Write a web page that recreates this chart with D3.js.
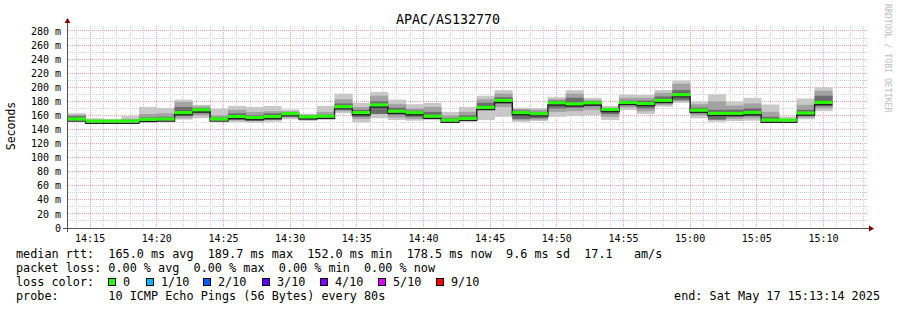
<!DOCTYPE html>
<html>
<head>
<meta charset="utf-8">
<script src="https://cdn.jsdelivr.net/npm/d3@7"></script>
<style>
  body { margin: 0; background: #fff; }
  text { font-family: "DejaVu Sans Mono", monospace; }
</style>
</head>
<body>
<div id="chart-area"></div>
<script>
// smokeping style graph, 10 pings every 80s, values in ms
var tStart = new Date(2025, 4, 17, 14, 13, 16)
var tEnd = new Date(2025, 4, 17, 15, 13, 16)
var firstStep = new Date(2025, 4, 17, 14, 13, 20)
var stepSec = 80

var median   = [155, 152, 152, 152, 154.5, 155, 164, 168, 155, 158.5, 157, 158.5, 162.5, 158, 159, 172.5, 164, 175, 166, 164, 159, 153.5, 156, 171.5, 181.5, 164, 162.5, 178, 176.5, 178, 168.5, 178.5, 177, 181.5, 189.5, 167.5, 163, 163, 164, 153.5, 153.5, 163.5, 178.5]
var smokeMin = [152, 150, 150.5, 151, 151.5, 150.5, 154, 156, 152, 150.5, 149.5, 151, 154.5, 152, 153.5, 163, 150.5, 156, 153.5, 152.5, 153.5, 151, 153.5, 153.5, 158, 151, 152, 158, 159, 160.5, 153.5, 167.5, 162, 172.5, 178, 156, 151, 152, 152.5, 150.5, 152, 154.5, 166]
var smokeMax = [163, 156, 155, 159, 172, 170.5, 182.5, 175, 169.5, 173.5, 172, 173.5, 168.5, 162.5, 173.5, 191, 178, 193.5, 182.5, 176, 178, 165, 172, 188, 196, 171, 170.5, 186, 196, 185, 173.5, 189.5, 189, 196, 209.5, 179.5, 190, 179.5, 185, 175.5, 158.5, 184, 200]
var midLo    = [153, 151, 151, 151.5, 152.5, 152, 156, 160, 153, 153, 152, 154, 157, 154, 155, 166, 155, 162, 157, 155, 155, 152, 154.5, 168, 172, 153, 154, 165, 166, 168, 158, 171, 166, 175, 180, 160, 154, 155, 156, 151.5, 152.5, 157, 170]
var midHi    = [161, 154, 153.5, 155, 162, 163, 179, 173, 160, 168, 165, 166, 166, 161, 165, 183, 172, 188, 176, 170, 172, 160, 165, 183, 191, 169, 168, 183, 191, 182, 171, 185, 185, 192, 205, 176, 180, 174, 177, 165, 155, 175, 195]
var coreLo   = [154, 151.5, 151.5, 152, 153.5, 153.5, 160, 163, 154, 155, 154, 156, 160, 156, 157, 169, 158, 162, 161, 158, 156.5, 152.5, 155, 170, 177, 155, 156, 170, 171, 173, 162, 175, 170, 178, 182, 163, 154, 158, 159, 152, 153, 159, 173]
var coreHi   = [159, 153, 153, 153.5, 157, 158, 172, 170, 157, 163, 160, 163, 164.5, 159.5, 161, 177, 168, 180, 171, 167, 165, 156, 160, 178, 186, 167, 165, 181, 185, 180, 170, 181, 181, 187, 196, 171, 168, 168, 170, 158, 154, 168, 188]

var smokeColors = ["#c8c8c8", "#a2a2a2", "#6c6c6c"]

var lossLabels = ["0", "1/10", "2/10", "3/10", "4/10", "5/10", "9/10"]
var lossColors = ["#26ff00", "#00b8ff", "#0059ff", "#5e00ff", "#7e00ff", "#dd00ff", "#ff0000"]
var lossBoxX = [108, 146, 203, 262, 320, 378, 436]
var lossTextX = [123, 161, 218, 277, 335, 393, 451]

var yTicks = d3.range(20, 281, 20)
var yMinor = d3.range(10, 281, 10)

var legendLines = [
  "median rtt:  165.0 ms avg  189.7 ms max  152.0 ms min  178.5 ms now  9.6 ms sd  17.1   am/s",
  "packet loss: 0.00 % avg  0.00 % max  0.00 % min  0.00 % now",
  "loss color:",
  "probe:       10 ICMP Echo Pings (56 Bytes) every 80s"
]

var W = 897, H = 310
var plot = {left: 67, right: 867, top: 26, bottom: 228}

var svg = d3.select("#chart-area").append("svg")
  .attr("width", W)
  .attr("height", H)

svg.append("rect").attr("width", W).attr("height", H).attr("fill", "#fff")

var x = d3.scaleTime()
  .domain([tStart, tEnd])
  .range([plot.left, plot.right])

var y = d3.scaleLinear()
  .domain([0, 287.1])
  .range([plot.bottom, plot.top])

function stepT(i) { return new Date(firstStep.getTime() + i * stepSec * 1000) }
function snap(v) { return Math.floor(v) + 0.5 }

var steps = median.map(function(m, i) {
  return {
    t0: stepT(i), t1: stepT(i + 1), med: m,
    bands: [[smokeMin[i], smokeMax[i]], [midLo[i], midHi[i]], [coreLo[i], coreHi[i]]]
  }
})

// grid (opaque dots)
var minorCol = "#cdcdcd"
var majorCol = "#f4a3a3"
var xTicks = d3.timeMinute.every(5).range(tStart, tEnd)
var minutes = d3.timeMinute.range(tStart, tEnd).filter(function(d) { return d.getMinutes() % 5 != 0 })

var grid = svg.append("g")
grid.selectAll(null).data(minutes).enter().append("line")
  .attr("x1", function(d) { return snap(x(d)) })
  .attr("x2", function(d) { return snap(x(d)) })
  .attr("y1", plot.top).attr("y2", plot.bottom)
  .attr("stroke", minorCol)
  .attr("stroke-dasharray", "1,1")

grid.selectAll(null).data(yMinor.filter(function(d) { return d % 20 != 0 })).enter().append("line")
  .attr("x1", plot.left + 1).attr("x2", plot.right)
  .attr("y1", function(d) { return snap(y(d)) })
  .attr("y2", function(d) { return snap(y(d)) })
  .attr("stroke", minorCol)
  .attr("stroke-dasharray", "1,1")

grid.selectAll(null).data(yTicks).enter().append("line")
  .attr("x1", plot.left + 1).attr("x2", plot.right)
  .attr("y1", function(d) { return snap(y(d)) })
  .attr("y2", function(d) { return snap(y(d)) })
  .attr("stroke", majorCol)
  .attr("stroke-dasharray", "1,1")

grid.selectAll(null).data(xTicks).enter().append("line")
  .attr("x1", function(d) { return snap(x(d)) })
  .attr("x2", function(d) { return snap(x(d)) })
  .attr("y1", plot.top).attr("y2", plot.bottom)
  .attr("stroke", majorCol)
  .attr("stroke-dasharray", "1,1")

var g = svg.append("g")

// smoke
smokeColors.forEach(function(c, k) {
  g.selectAll(null).data(steps).enter().append("rect")
    .attr("x", function(d) { return x(d.t0) })
    .attr("width", function(d) { return x(d.t1) - x(d.t0) + 0.3 })
    .attr("y", function(d) { return y(d.bands[k][1]) })
    .attr("height", function(d) { return y(d.bands[k][0]) - y(d.bands[k][1]) })
    .attr("fill", c)
})

// median line
var pts = steps.map(function(d) { return [d.t0, d.med] })
pts.push([steps[steps.length - 1].t1, median[median.length - 1]])
var medLine = d3.line()
  .x(function(d) { return x(d[0]) })
  .y(function(d) { return y(d[1]) + 2.2 })
  .curve(d3.curveStepAfter)
g.append("path")
  .datum(pts)
  .attr("d", medLine)
  .attr("fill", "none")
  .attr("stroke", "#202020")
  .attr("stroke-width", 1.4)

g.selectAll(null).data(steps).enter().append("rect")
  .attr("x", function(d) { return x(d.t0) })
  .attr("width", function(d) { return x(d.t1) - x(d.t0) })
  .attr("y", function(d) { return y(d.med) - 1.5 })
  .attr("height", 3)
  .attr("fill", lossColors[0])

// axes
var ax = svg.append("g").attr("shape-rendering", "crispEdges")
ax.append("line")
  .attr("x1", plot.left - 4).attr("x2", plot.right + 4)
  .attr("y1", snap(y(0))).attr("y2", snap(y(0)))
  .attr("stroke", "#555")
ax.append("line")
  .attr("x1", plot.left + 0.5).attr("x2", plot.left + 0.5)
  .attr("y1", plot.bottom + 4).attr("y2", plot.top - 4)
  .attr("stroke", "#555")
svg.append("path")
  .attr("d", "M" + (plot.left + 0.5) + "," + (plot.top - 8) + "l-3,5h6z")
  .attr("fill", "#7f0000")
svg.append("path")
  .attr("d", "M" + (plot.right + 7) + "," + (plot.bottom + 0.5) + "l-5,-3v6z")
  .attr("fill", "#7f0000")

// tick labels
var yAxis = svg.append("g").attr("font-size", "10px").attr("fill", "#000")
yAxis.selectAll(null).data([0].concat(yTicks)).enter().append("text")
  .attr("x", 61)
  .attr("y", function(d) { return y(d) + 3.6 })
  .attr("text-anchor", "end")
  .style("white-space", "pre")
  .text(function(d) { return d == 0 ? "0" : d + " m" })

var fmt = d3.timeFormat("%H:%M")
svg.append("g").attr("font-size", "10px")
  .selectAll(null).data(xTicks).enter().append("text")
  .attr("x", function(d) { return x(d) })
  .attr("y", 241.5)
  .attr("text-anchor", "middle")
  .text(fmt)

// title and y label
svg.append("text")
  .attr("x", 448).attr("y", 23.5)
  .attr("text-anchor", "middle")
  .attr("font-size", "13.3px")
  .text("APAC/AS132770")

svg.append("text")
  .attr("transform", "translate(15,126) rotate(-90)")
  .attr("text-anchor", "middle")
  .attr("font-size", "11.5px")
  .text("Seconds")

svg.append("text")
  .attr("transform", "translate(885,4) rotate(90)")
  .attr("font-size", "8.2px")
  .attr("fill", "#bdbdbd")
  .text("RRDTOOL / TOBI OETIKER")

// legend
var leg = svg.append("g").attr("font-size", "11.8px")
leg.selectAll(null).data(legendLines).enter().append("text")
  .attr("x", 16)
  .attr("y", function(d, i) { return 258 + i * 14 })
  .style("white-space", "pre")
  .text(function(d) { return d })

lossColors.forEach(function(c, i) {
  leg.append("rect")
    .attr("x", lossBoxX[i] + 0.5).attr("y", 278.5)
    .attr("width", 7).attr("height", 7)
    .attr("fill", c).attr("stroke", "#000").attr("stroke-width", 1)
  leg.append("text")
    .attr("x", lossTextX[i]).attr("y", 286)
    .text(lossLabels[i])
})

leg.append("text")
  .attr("x", 880).attr("y", 300)
  .attr("text-anchor", "end")
  .text("end: Sat May 17 15:13:14 2025")
</script>
</body>
</html>
